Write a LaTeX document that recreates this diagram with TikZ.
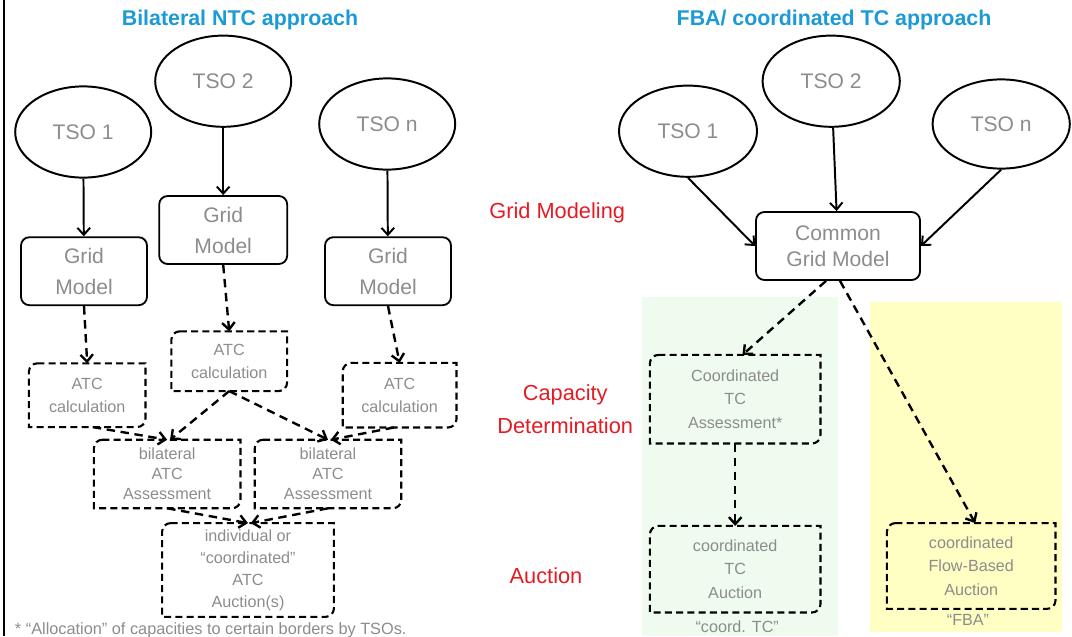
\documentclass[tikz,border=0pt]{standalone}
\usepackage{fontspec}
\setmainfont{Liberation Sans}
\usepackage{xcolor}
\usetikzlibrary{arrows.meta, shapes.geometric}
\definecolor{txtgray}{HTML}{8C8C8C}
\definecolor{headblue}{HTML}{1B9AD6}
\definecolor{stepred}{HTML}{E41B23}
\definecolor{tcgreen}{HTML}{EFFBEF}
\definecolor{fbayellow}{HTML}{FFFFC4}
\tikzset{
tso/.style = {ellipse, draw=black, line width=1.4pt, inner sep=0pt,
              text=txtgray, minimum width=3.4cm, minimum height=2.28cm,
              font=\fontsize{15}{18}\selectfont}
}
\tikzset{
gridbox/.style = {rectangle, rounded corners=6pt, draw=black, line width=1.3pt,
                  inner sep=0pt, text=txtgray, align=center, minimum width=#1,
                  minimum height=1.7cm, font=\fontsize{15}{22}\selectfont},
gridbox/.default = 3.15cm
}
\tikzset{
atcbox/.style = {rectangle, inner sep=0pt, text=txtgray, align=center,
                 minimum width=#1, font=\fontsize{11.5}{16.7}\selectfont},
atcbox/.default = 2.9cm
}
\tikzset{
dframe/.style = {draw=black, line width=1.5pt, dash pattern=on 5pt off 3pt},
dline/.style = {line width=1.7pt, dash pattern=on 6pt off 4pt},
sline/.style = {line width=1.4pt}
}
\tikzset{
steplabel/.style = {text=stepred, align=center, font=\fontsize{15.5}{22.8}\selectfont},
titletext/.style = {text=headblue, font=\bfseries\fontsize{15.2}{18}\selectfont}
}
% dashed frame, round at top left and bottom right only
\newcommand{\diagframe}[1]{%
  \draw[dframe] ([xshift=6pt]#1.north west) -- (#1.north east)
    -- ([yshift=6pt]#1.south east) arc[start angle=0, end angle=-90, radius=6pt]
    -- (#1.south west) -- ([yshift=-6pt]#1.north west)
    arc[start angle=180, end angle=90, radius=6pt] -- cycle;}

\begin{document}
\begin{tikzpicture}[>={Straight Barb[length=5pt,width=9pt]}]

    \useasboundingbox (0,0) rectangle (26.8,-15.9);
    \fill[tcgreen] (16.05,-7.43) rectangle (20.95,-15.9);
    \fill[fbayellow] (21.75,-7.55) rectangle (26.55,-15.8);
    \draw[line width=2.1pt] (0.1,0) -- (0.1,-15.9);

    \node[titletext] (titleL) at (6.0,-0.5) {Bilateral NTC approach};
    \node[titletext] (titleR) at (20.85,-0.5) {FBA/ coordinated TC approach};

    \node[tso] (tsoL1) at (2.08,-3.3) {TSO 1};
    \node[tso] (tsoL2) at (5.58,-2.03) {TSO 2};
    \node[tso] (tsoLn) at (9.68,-3.1) {TSO n};

    \node[gridbox] (gridL1) at (2.1,-6.78) {Grid\\Model};
    \node[gridbox=3.2cm] (gridL2) at (5.58,-5.75) {Grid\\Model};
    \node[gridbox] (gridLn) at (9.7,-6.78) {Grid\\Model};

    \node[atcbox, minimum height=1.58cm] (atcL1) at (2.18,-9.88) {ATC\\calculation};
    \node[atcbox=2.88cm, minimum height=1.48cm] (atcL2) at (5.73,-9.03) {ATC\\calculation};
    \node[atcbox=2.83cm, minimum height=1.6cm] (atcLn) at (9.99,-9.88) {ATC\\calculation};

    \node[atcbox=3.65cm, minimum height=1.7cm, font=\fontsize{11.5}{14.3}\selectfont] (bilL1) at (4.18,-11.85) {bilateral\\ATC\\Assessment};
    \node[atcbox=3.65cm, minimum height=1.7cm, font=\fontsize{11.5}{14.3}\selectfont] (bilL2) at (8.2,-11.85) {bilateral\\ATC\\Assessment};

    \node[atcbox=4.28cm, minimum height=2.33cm, font=\fontsize{11.5}{15.7}\selectfont] (aucL) at (6.2,-14.25) {individual or\\“coordinated”\\ATC\\Auction(s)};

    \node[anchor=base west, text=txtgray, font=\fontsize{11.6}{14}\selectfont] (noteL) at (0.25,-15.85) {* “Allocation” of capacities to certain borders by TSOs.};

    \foreach \n in {atcL1,atcL2,atcLn,bilL1,bilL2,aucL} {\diagframe{\n}}

    \node[steplabel] (stepGrid) at (13.93,-5.33) {Grid Modeling};
    \node[steplabel] (stepCap) at (14.13,-10.23) {Capacity\\Determination};
    \node[steplabel] (stepAuc) at (13.65,-14.4) {Auction};

    \node[tso, minimum width=3.45cm] (tsoR1) at (17.2,-3.28) {TSO 1};
    \node[tso, minimum width=3.43cm] (tsoR2) at (20.78,-2.03) {TSO 2};
    \node[tso, minimum width=3.43cm, minimum height=2.23cm] (tsoRn) at (25.03,-3.1) {TSO n};

    \node[gridbox=4.1cm, font=\fontsize{15}{18.5}\selectfont] (cgmR) at (20.95,-6.15) {Common\\Grid Model};

    \node[atcbox=4.25cm, minimum height=2.2cm] (assR) at (18.38,-9.98) {Coordinated\\TC\\Assessment*};
    \node[atcbox=4.25cm, minimum height=2.15cm] (aucR) at (18.38,-14.23) {coordinated\\TC\\Auction};
    \node[atcbox=4.2cm, minimum height=2.13cm] (fbaR) at (24.28,-14.15) {coordinated\\Flow-Based\\Auction};
    \foreach \n in {assR,aucR,fbaR} {\diagframe{\n}}

    \node[atcbox] (noteTC) at (18.43,-15.68) {“coord. TC”};
    \node[atcbox] (noteFBA) at (24.2,-15.5) {“FBA”};

    \draw[->, sline] (tsoL1) -- (gridL1);
    \draw[->, sline] (tsoL2) -- (gridL2);
    \draw[->, sline] (tsoLn) -- (gridLn);

    \draw[->, dline] (gridL1.south) -- (atcL1.north);
    \draw[->, dline] (gridL2.south) -- (atcL2.north);
    \draw[->, dline] (gridLn.south) -- (atcLn.north);
    \draw[->, dline] ([xshift=4pt]atcL1.south) -- (bilL1.north);
    \draw[->, dline] (atcL2.south) -- ([xshift=2pt]bilL1.north);
    \draw[->, dline] (atcL2.south) -- (bilL2.north);
    \draw[->, dline] ([xshift=-4pt]atcLn.south) -- ([xshift=2pt]bilL2.north);
    \draw[->, dline] (bilL1.south) -- (aucL.north);
    \draw[->, dline] (bilL2.south) -- ([xshift=2pt]aucL.north);

    \draw[->, sline] (tsoR1.south) -- (cgmR.west);
    \draw[->, sline] (tsoR2) -- (cgmR);
    \draw[->, sline] (tsoRn.south) -- (cgmR.east);
    \draw[->, dline] ([xshift=-0.3cm]cgmR.south) -- ([xshift=0.18cm]assR.north);
    \draw[->, dline] ([xshift=0.05cm]cgmR.south) -- ([xshift=0.1cm]fbaR.north);
    \draw[->, dline] (assR) -- (aucR);

  \end{tikzpicture}
\end{document}
